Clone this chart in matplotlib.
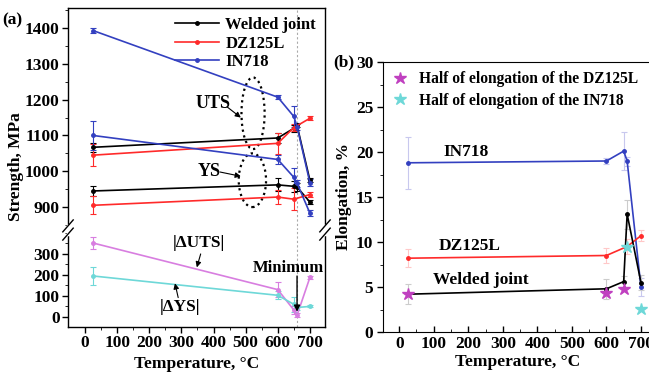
import matplotlib
matplotlib.use("Agg")
import matplotlib.pyplot as plt
from matplotlib.patches import Ellipse
from matplotlib.lines import Line2D
import numpy as np

plt.rcParams['font.family'] = ['Liberation Serif', 'DejaVu Serif']
plt.rcParams['font.weight'] = 'bold'
plt.rcParams['axes.labelweight'] = 'bold'
plt.rcParams['font.size'] = 12

# strength data, MPa
t5 = [25, 600, 650, 660, 700]
t4 = [25, 600, 650, 700]
weld_uts = [1067, 1093, 1120, 1128, 975]
weld_uts_err = [12, 15, 10, 5, 5]
dz_uts = [1045, 1078, 1122, 1148]
dz_uts_err = [30, 30, 10, 5]
in_uts = [1393, 1207, 1153, 1125, 968]
in_uts_err = [8, 5, 30, 10, 10]
weld_ys = [945, 962, 958, 956, 914]
weld_ys_err = [15, 18, 15, 10, 5]
dz_ys = [905, 928, 922, 935]
dz_ys_err = [25, 20, 30, 8]
in_ys = [1100, 1033, 983, 967, 883]
in_ys_err = [40, 12, 25, 10, 8]
d_uts = [352, 130, 33, 8, 188]
d_uts_err = [30, 35, 20, 10, 5]
d_ys = [195, 103, 60, 45, 50]
d_ys_err = [45, 20, 35, 10, 5]

# elongation data, %
el_t_dz = [25, 600, 660, 700]
el_weld = [4.2, 4.8, 5.6, 13.1, 5.5]
el_weld_err = [1.1, 1.1, 0.6, 1.6, 0.8]
el_dz = [8.2, 8.5, 9.5, 10.7]
el_dz_err = [1.0, 0.8, 0.8, 0.6]
el_in = [18.8, 19.0, 20.1, 19.0, 5.0]
el_in_err = [2.9, 0.3, 2.1, 0.5, 1.0]
half_dz_t = [25, 600, 650]
half_dz = [4.2, 4.3, 4.8]
half_in_t = [660, 700]
half_in = [9.5, 2.6]

c_blk = 'black'
c_red = '#ff2a2a'
c_blu = '#3340c0'
c_mag = '#d87ee0'
c_cyn = '#6ed8d8'

fig = plt.figure(figsize=(6.49, 3.73), dpi=100)
W, H = 649, 373
def box(l, t, r, b):
    return [l / W, 1 - b / H, (r - l) / W, (b - t) / H]

ax_top = fig.add_axes(box(68, 8, 325, 230))
ax_bot = fig.add_axes(box(68, 230, 325, 327))
ax_b = fig.add_axes(box(383, 62, 652, 332))

def series(ax, x, y, e, c, ecol=None):
    ax.errorbar(x, y, yerr=e, color=c, ecolor=ecol or c, lw=1.2, marker='o',
                ms=2.5, elinewidth=0.8, capsize=2.5, capthick=0.8)

def arrow(ax, start, end, lw=0.8, ms=8):
    ax.annotate('', xy=end, xytext=start,
                arrowprops=dict(arrowstyle='-|>', color='black', lw=lw,
                                mutation_scale=ms, shrinkA=0, shrinkB=0))

# upper part: UTS and YS
series(ax_top, t5, weld_uts, weld_uts_err, c_blk)
series(ax_top, t4, dz_uts, dz_uts_err, c_red)
series(ax_top, t5, in_uts, in_uts_err, c_blu)
series(ax_top, t5, weld_ys, weld_ys_err, c_blk)
series(ax_top, t4, dz_ys, dz_ys_err, c_red)
series(ax_top, t5, in_ys, in_ys_err, c_blu)

# lower part: differences
series(ax_bot, t5, d_uts, d_uts_err, c_mag)
series(ax_bot, t5, d_ys, d_ys_err, c_cyn)

for ax in (ax_top, ax_bot):
    ax.set_xlim(-53, 747)
    ax.axvline(660, color='#aaaaaa', ls=(0, (2, 2)), lw=0.8, zorder=0)
    ax.tick_params(direction='out', width=1, length=4, labelsize=12.5, pad=2)
    ax.tick_params(which='minor', direction='out', length=2.5)
    for s in ax.spines.values():
        s.set_linewidth(1.0)

ax_top.set_ylim(836, 1456)
ax_top.set_yticks([900, 1000, 1100, 1200, 1300, 1400])
ax_top.set_yticks(np.arange(850, 1451, 50), minor=True)
ax_top.spines['bottom'].set_visible(False)
ax_top.tick_params(axis='x', which='both', bottom=False, labelbottom=False)

ax_bot.set_ylim(-48, 414)
ax_bot.set_yticks([0, 100, 200, 300])
ax_bot.set_yticks(np.arange(0, 401, 50), minor=True)
ax_bot.spines['top'].set_visible(False)
ax_bot.set_xticks(np.arange(0, 701, 100))
ax_bot.set_xticks(np.arange(0, 701, 50), minor=True)
ax_bot.set_xlabel('Temperature, \u00b0C', fontsize=12.5, labelpad=3)

fig.text(16 / W, 1 - 167 / H, 'Strength, MPa', rotation=90, ha='center',
         va='center', fontsize=12.5, fontweight='bold')
fig.text(2 / W, 1 - 20 / H, '(a)', fontsize=12.5, fontweight='bold', va='center')

# break marks on both side spines
for xs in (0, 1):
    xc = (68 + xs * 257) / W
    yc = 1 - 230 / H
    fig.add_artist(Line2D([xc, xc], [yc - 0.012, yc + 0.012], color='white', lw=2.5))
    for dy in (-0.011, 0.011):
        fig.add_artist(Line2D([xc - 0.008, xc + 0.008], [yc + dy - 0.016, yc + dy + 0.016],
                              color='black', lw=1.0))

leg_handles = [Line2D([], [], color=c, lw=1.2, marker='o', ms=2.5) for c in (c_blk, c_red, c_blu)]
ax_top.legend(leg_handles, ['Welded joint', 'DZ125L', 'IN718'], loc='upper right',
              frameon=False, fontsize=12, handlelength=2.6, borderaxespad=0.15,
              labelspacing=0.15, handletextpad=0.4)

# dotted ellipses grouping the UTS and YS curves
ax_top.add_patch(Ellipse((523, 1162), 72, 200, fill=False, ls=':', lw=1.6, color='black'))
ax_top.add_patch(Ellipse((521, 975), 85, 150, fill=False, ls=':', lw=1.6, color='black'))
ax_top.text(399, 1189, 'UTS', fontsize=13, fontweight='bold', va='center', ha='center')
ax_top.text(386, 1000, 'YS', fontsize=13, fontweight='bold', va='center', ha='center')
arrow(ax_top, (442, 1180), (485, 1150))
arrow(ax_top, (420, 998), (485, 986))

ax_bot.text(355, 352, '|\u0394UTS|', fontsize=12.5, fontweight='bold', va='center', ha='center')
ax_bot.text(296, 48, '|\u0394YS|', fontsize=12.5, fontweight='bold', va='center', ha='center')
arrow(ax_bot, (360, 300), (348, 236))
arrow(ax_bot, (290, 92), (280, 160))
ax_bot.text(634, 233, 'Minimum', fontsize=12, fontweight='bold', va='center', ha='center')
arrow(ax_bot, (660, 195), (660, 25), lw=1.0, ms=9)

# elongation panel
series(ax_b, t5, el_in, el_in_err, c_blu, ecol='#c8c8ee')
series(ax_b, el_t_dz, el_dz, el_dz_err, c_red, ecol='#ffc8c8')
series(ax_b, t5, el_weld, el_weld_err, c_blk, ecol='#cccccc')
ax_b.plot(half_dz_t, half_dz, ls='none', marker='*', ms=9, color='#c040c0',
          label='Half of elongation of the DZ125L', zorder=5)
ax_b.plot(half_in_t, half_in, ls='none', marker='*', ms=9, color=c_cyn,
          label='Half of elongation of the IN718', zorder=5)
ax_b.set_xlim(-47, 732)
ax_b.set_ylim(0, 30)
ax_b.set_xticks(np.arange(0, 701, 100))
ax_b.set_xticks(np.arange(0, 701, 50), minor=True)
ax_b.set_yticks(np.arange(0, 31, 5))
ax_b.set_yticks(np.arange(0, 31, 2.5), minor=True)
ax_b.tick_params(axis='y', which='both', direction='out')
ax_b.tick_params(axis='x', which='both', direction='in')
ax_b.tick_params(length=4, width=1, labelsize=12.5, pad=3)
ax_b.tick_params(which='minor', length=2.5)
ax_b.set_xlabel('Temperature, \u00b0C', fontsize=12.5, labelpad=1)
ax_b.set_ylabel('Elongation, %', fontsize=12.5, labelpad=3)
ax_b.legend(loc='upper left', frameon=False, fontsize=11.2, handlelength=1.0,
            borderaxespad=0.2, labelspacing=0.35, handletextpad=0.7)
ax_b.text(193, 20.0, 'IN718', fontsize=12.5, fontweight='bold', ha='center', va='center')
ax_b.text(203, 9.6, 'DZ125L', fontsize=12.5, fontweight='bold', ha='center', va='center')
ax_b.text(237, 5.8, 'Welded joint', fontsize=12.5, fontweight='bold', ha='center', va='center')
fig.text(333 / W, 1 - 62 / H, '(b)', fontsize=12.5, fontweight='bold', va='center')

fig.savefig('out.png', dpi=100)
